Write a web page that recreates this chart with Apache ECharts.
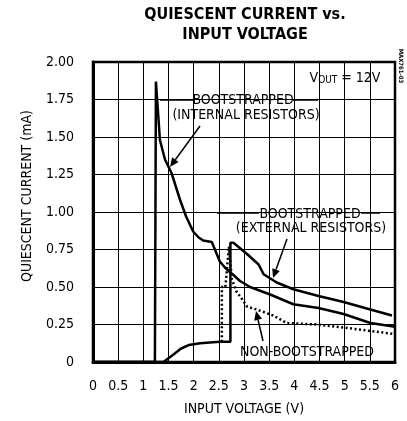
<!DOCTYPE html>
<html>
<head>
<meta charset="utf-8">
<script src="https://cdn.jsdelivr.net/npm/echarts@6/dist/echarts.min.js"></script>
<style>
  html, body { margin: 0; padding: 0; background: #fff; }
  #chart { width: 407px; height: 421px; }
</style>
</head>
<body>
<div id="chart"></div>
<script>
// 数据
var xTicks = [0, 0.5, 1, 1.5, 2, 2.5, 3, 3.5, 4, 4.5, 5, 5.5, 6];
var yTicks = [0, 0.25, 0.5, 0.75, 1, 1.25, 1.5, 1.75, 2];

var internalV = [0, 1.23, 1.25, 1.33, 1.43, 1.56, 1.73, 1.85, 1.99, 2.1, 2.19, 2.36, 2.52, 2.62, 2.72, 2.79, 2.92, 3.12, 3.52, 3.98, 4.48, 4.98, 5.51, 6.0];
var internalI = [0, 0, 1.87, 1.48, 1.35, 1.26, 1.08, 0.97, 0.87, 0.83, 0.81, 0.80, 0.67, 0.63, 0.60, 0.58, 0.54, 0.50, 0.45, 0.385, 0.36, 0.32, 0.26, 0.235];

var externalV = [0, 1.4, 1.6, 1.75, 1.9, 2.13, 2.52, 2.73, 2.73, 2.79, 3.06, 3.29, 3.39, 3.65, 3.98, 4.48, 4.98, 5.51, 5.94];
var externalI = [0, 0, 0.05, 0.09, 0.113, 0.125, 0.135, 0.135, 0.795, 0.795, 0.72, 0.65, 0.585, 0.53, 0.485, 0.44, 0.40, 0.35, 0.31];

var nonBootV = [2.56, 2.56, 2.63, 2.70, 2.76, 2.85, 2.96, 3.06, 3.25, 3.58, 3.85, 4.45, 4.98, 5.44, 6.0];
var nonBootI = [0.135, 0.5, 0.5, 0.77, 0.55, 0.47, 0.42, 0.37, 0.35, 0.31, 0.26, 0.25, 0.23, 0.21, 0.186];

var pairs = function (xs, ys) {
    var out = [];
    for (var i = 0; i < xs.length; i++) {
        out.push([xs[i], ys[i]]);
    }
    return out;
};

var FONT = '"Liberation Sans Narrow", "DejaVu Sans Condensed", Arial, sans-serif';

// 带箭头的引线
var arrow = function (x1, y1, x2, y2) {
    var ang = Math.atan2(y2 - y1, x2 - x1);
    var len = 9, w = 4;
    var bx = x2 - len * Math.cos(ang), by = y2 - len * Math.sin(ang);
    var px = -Math.sin(ang) * w, py = Math.cos(ang) * w;
    return [
        { type: 'line', shape: { x1: x1, y1: y1, x2: bx, y2: by }, style: { stroke: '#000', lineWidth: 1.5 } },
        { type: 'polygon', shape: { points: [[x2, y2], [bx + px, by + py], [bx - px, by - py]] }, style: { fill: '#000' } }
    ];
};
var hline = function (x1, x2, y) {
    return { type: 'line', shape: { x1: x1, y1: y, x2: x2, y2: y }, style: { stroke: '#000', lineWidth: 1.5 } };
};
var label = function (txt, x, y) {
    return {
        type: 'text', x: x, y: y,
        style: { text: txt, font: '14px ' + FONT, fill: '#000', align: 'center', verticalAlign: 'middle',
                 backgroundColor: '#fff' }
    };
};

var graphics = [];
graphics.push(label('BOOTSTRAPPED', 243, 100));
graphics.push(label('(INTERNAL RESISTORS)', 246, 115));
graphics.push(hline(160, 194, 100));
graphics.push(hline(293, 318, 100));
graphics = graphics.concat(arrow(200, 126, 170, 167));

graphics.push(label('BOOTSTRAPPED', 310, 214));
graphics.push(label('(EXTERNAL RESISTORS)', 311, 228));
graphics.push(hline(217, 259, 213));
graphics.push(hline(361, 380, 213));
graphics = graphics.concat(arrow(287, 239, 273, 278));

graphics.push(label('NON-BOOTSTRAPPED', 307, 352));
graphics = graphics.concat(arrow(263, 341, 256, 311));

graphics.push({
    type: 'text', x: 345, y: 78,
    style: {
        text: '{v|V}{s|OUT}{v| = 12V}',
        fill: '#000', align: 'center', verticalAlign: 'middle', backgroundColor: '#fff',
        rich: {
            v: { font: '14px ' + FONT, fill: '#000' },
            s: { font: '10px ' + FONT, fill: '#000', verticalAlign: 'bottom', padding: [5, 0, 0, 0] }
        }
    }
});
graphics.push({
    type: 'text', x: 401, y: 66, rotation: -Math.PI / 2,
    style: { text: 'MAX761-03', font: 'bold 6px ' + FONT, fill: '#000', align: 'center', verticalAlign: 'middle' }
});
graphics.push({
    type: 'text', x: 27, y: 196, rotation: Math.PI / 2,
    style: { text: 'QUIESCENT CURRENT (mA)', font: '14px ' + FONT, fill: '#000', align: 'center', verticalAlign: 'middle' }
});

var option = {
    animation: false,
    backgroundColor: '#fff',
    title: {
        text: 'QUIESCENT CURRENT vs.\nINPUT VOLTAGE',
        left: 240,
        top: 0,
        textAlign: 'center',
        textStyle: { fontFamily: FONT, fontWeight: 'bold', fontSize: 16, lineHeight: 20, color: '#000' }
    },
    grid: {
        left: 93, right: 12, top: 62, bottom: 58,
        show: true, borderColor: '#000', borderWidth: 2.5
    },
    xAxis: {
        type: 'value', min: 0, max: 6, interval: 0.5,
        name: 'INPUT VOLTAGE (V)', nameLocation: 'middle', nameGap: 40,
        nameTextStyle: { fontFamily: FONT, fontSize: 14, color: '#000' },
        axisLine: { show: true, lineStyle: { color: '#000', width: 3 } },
        axisTick: { show: false },
        axisLabel: {
            fontFamily: FONT, fontSize: 14, color: '#000', margin: 17,
            formatter: function (v) { return xTicks.indexOf(v) >= 0 ? String(v) : ''; }
        },
        splitLine: { show: true, lineStyle: { color: '#000', width: 1 } }
    },
    yAxis: {
        type: 'value', min: 0, max: 2, interval: 0.25,
        axisLine: { show: true, lineStyle: { color: '#000', width: 3 } },
        axisTick: { show: false },
        axisLabel: {
            fontFamily: FONT, fontSize: 14, color: '#000', margin: 19,
            formatter: function (v) {
                if (yTicks.indexOf(v) < 0) return '';
                return v === 0 ? '0' : v.toFixed(2);
            }
        },
        splitLine: { show: true, lineStyle: { color: '#000', width: 1 } }
    },
    series: [
        {
            name: 'Bootstrapped (internal)', type: 'line', data: pairs(internalV, internalI),
            symbol: 'none', lineStyle: { color: '#000', width: 2.5 }, z: 3
        },
        {
            name: 'Bootstrapped (external)', type: 'line', data: pairs(externalV, externalI),
            symbol: 'none', lineStyle: { color: '#000', width: 2.5 }, z: 3
        },
        {
            name: 'Non-bootstrapped', type: 'line', data: pairs(nonBootV, nonBootI),
            symbol: 'none', lineStyle: { color: '#000', width: 2.5, type: [2, 2.5] }, z: 3
        }
    ],
    graphic: graphics
};

var chart = echarts.init(document.getElementById('chart'), null, { renderer: 'canvas' });
chart.setOption(option);
</script>
</body>
</html>
